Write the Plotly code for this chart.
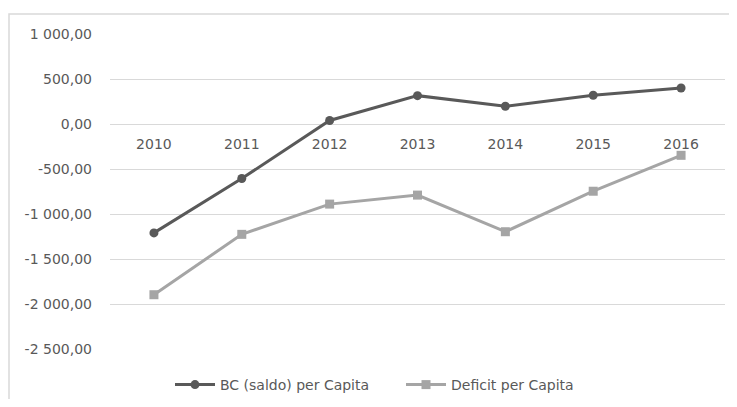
import plotly.graph_objects as go

years = ["2010", "2011", "2012", "2013", "2014", "2015", "2016"]
bc_saldo = [-1210, -606, 39, 315, 197, 320, 400]
deficit = [-1897, -1226, -890, -790, -1197, -747, -348]
y_ticks = [1000, 500, 0, -500, -1000, -1500, -2000, -2500]


def fmt(v):
    s = f"{v:,.2f}"
    return s.replace(",", " ").replace(".", ",")


y_ticktext = [fmt(v) for v in y_ticks]

font_fam = "DejaVu Sans, sans-serif"
txt_col = "#595959"

fig = go.Figure()
fig.add_trace(go.Scatter(
    x=years, y=bc_saldo, name="BC (saldo) per Capita", mode="lines+markers",
    line=dict(color="#595959", width=3),
    marker=dict(symbol="circle", size=9, color="#595959"),
    legend="legend",
))
fig.add_trace(go.Scatter(
    x=years, y=deficit, name="Deficit per Capita", mode="lines+markers",
    line=dict(color="#a5a5a5", width=3),
    marker=dict(symbol="square", size=9, color="#a5a5a5"),
    legend="legend2",
))

y0, y1 = -2500, 1000
zero_pos = (0 - y0) / (y1 - y0)

W, H = 721, 391
L, R, T, B = 102, 4, 26, 50
pw, ph = W - L - R, H - T - B
leg_y = -(377 - (T + ph)) / ph


def leg(px):
    return dict(orientation="h", x=(px - 8 - L) / pw, xanchor="left",
                y=leg_y, yanchor="middle", bgcolor="rgba(0,0,0,0)",
                font=dict(size=14, color=txt_col), itemwidth=40)


fig.update_layout(
    width=W, height=H,
    margin=dict(l=L, r=R, t=T, b=B, autoexpand=False),
    paper_bgcolor="white", plot_bgcolor="white",
    font=dict(family=font_fam, size=14, color=txt_col),
    showlegend=True,
    legend=leg(170),
    legend2=leg(401),
    xaxis=dict(type="category", range=[-0.5, len(years) - 0.5], anchor="free",
               position=zero_pos, showgrid=False,
               showline=False, ticks="", ticklabelstandoff=10, automargin=False,
               tickfont=dict(size=14, color=txt_col)),
    yaxis=dict(range=[y0, y1], tickvals=y_ticks, ticktext=y_ticktext,
               showgrid=True, gridcolor="#d9d9d9", gridwidth=1,
               zeroline=False, showline=False, ticks="", ticklabelstandoff=17,
               automargin=False, tickfont=dict(size=14, color=txt_col)),
    shapes=[dict(type="rect", xref="paper", yref="paper",
                 x0=(-L + 1) / pw, x1=(W + 20 - L) / pw,
                 y0=-(H + 20 - T - ph) / ph, y1=(T + ph - 6) / ph,
                 line=dict(color="#d9d9d9", width=1.5), fillcolor="rgba(0,0,0,0)",
                 layer="below")],
)

fig.write_html("out.html")
